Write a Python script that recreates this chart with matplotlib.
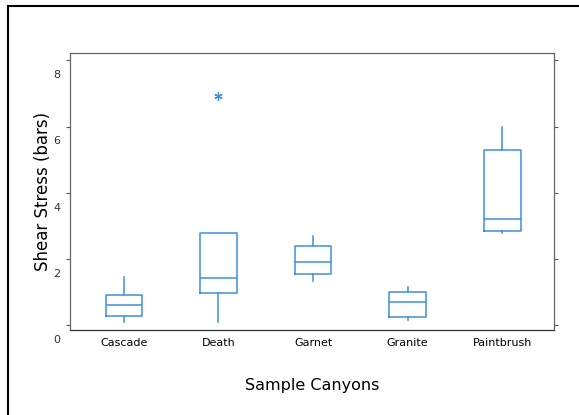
import matplotlib
matplotlib.use("Agg")
import matplotlib.pyplot as plt
import matplotlib.transforms as mtransforms
from matplotlib.lines import Line2D

# values
canyons = ["Cascade", "Death", "Garnet", "Granite", "Paintbrush"]
whisker_low = [0.54, 0.54, 1.78, 0.60, 3.23]
q1 = [0.73, 1.42, 1.99, 0.69, 3.29]
median = [1.06, 1.87, 2.36, 1.15, 3.66]
q3 = [1.36, 3.23, 2.84, 1.45, 5.74]
whisker_high = [1.90, 3.23, 3.14, 1.60, 6.43]
outliers = [[], [7.37], [], [], []]

ytick_values = [0, 2, 4, 6, 8]
ytick_labels = ["0", "2", "4", "6", "8"]

blue = "#3f8fd8"

stats = []
for i, name in enumerate(canyons):
    stats.append(dict(label=name, whislo=whisker_low[i], q1=q1[i], med=median[i],
                      q3=q3[i], whishi=whisker_high[i], fliers=outliers[i]))

fig = plt.figure(figsize=(5.79, 4.15), dpi=100)
ax = fig.add_axes([0.121, 0.205, 0.836, 0.667])

ax.bxp(stats, positions=range(1, 6), widths=0.39, showcaps=False,
       boxprops=dict(color=blue, linewidth=1.1),
       whiskerprops=dict(color=blue, linewidth=1.1),
       medianprops=dict(color=blue, linewidth=1.1),
       flierprops=dict(marker=(6, 2, 0), markeredgecolor=blue, markersize=6,
                       markeredgewidth=0.9, linestyle="none"))

ax.set_xlim(0.43, 5.55)
ax.set_ylim(0.30, 8.67)

# tick marks sit a little above their labels in the original
ax.set_yticks([v + 0.45 for v in ytick_values])
ax.set_yticklabels([])
trans = mtransforms.blended_transform_factory(ax.transAxes, ax.transData)
for v, lab in zip(ytick_values, ytick_labels):
    ax.text(-0.02, v, lab, transform=trans, ha="right", va="center",
            fontsize=8, color="#333333", clip_on=False)
ax.tick_params(axis="y", direction="out", length=3, color="#555555",
               right=True, width=0.8)
ax.tick_params(axis="x", length=0, labelsize=8, pad=6)
for s in ax.spines.values():
    s.set_color("#666666")
    s.set_linewidth(0.9)
ax.spines["bottom"].set_color("#333333")

ax.set_ylabel("Shear Stress (bars)", fontsize=12)
ax.yaxis.set_label_coords(-0.037, 0.5)
ax.set_xlabel("Sample Canyons", fontsize=11.5)
ax.xaxis.set_label_coords(0.5, -0.173)

# page border (top and left edges visible)
fig.add_artist(Line2D([8 / 579, 8 / 579], [0, 1 - 6 / 415], transform=fig.transFigure,
                      color="black", linewidth=1.5))
fig.add_artist(Line2D([8 / 579, 1], [1 - 6 / 415, 1 - 6 / 415], transform=fig.transFigure,
                      color="black", linewidth=1.5))

fig.savefig("out.png", dpi=100)
